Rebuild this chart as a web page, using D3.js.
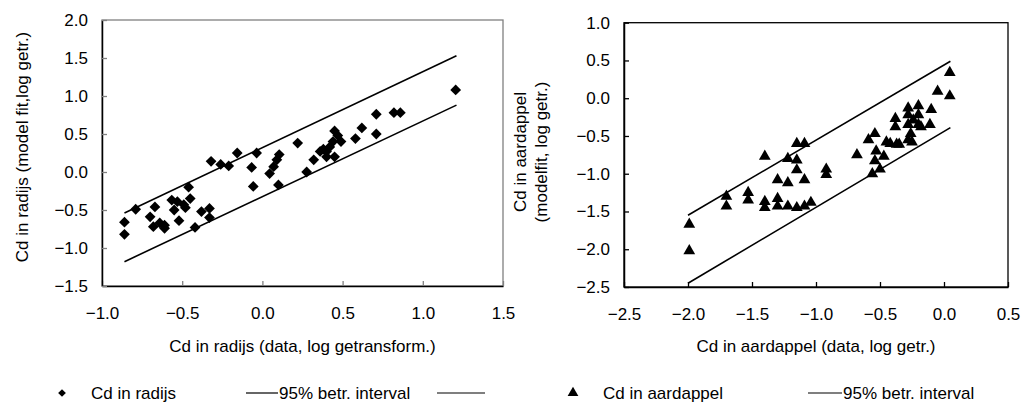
<!DOCTYPE html>
<html>
<head>
<meta charset="utf-8">
<script src="https://cdn.jsdelivr.net/npm/d3@7"></script>
<style>
  body { margin: 0; background: #fff; }
  text { font-family: "Liberation Sans", Arial, sans-serif; fill: #000; }
</style>
</head>
<body>
<div id="chart"></div>
<script>
// radijs: data (x) vs model fit (y), log transformed
var radijsX = [-0.86, -0.86, -0.79, -0.70, -0.67, -0.68, -0.64, -0.61, -0.61, -0.55,
  -0.565, -0.52, -0.53, -0.49, -0.48, -0.46, -0.45, -0.42, -0.38, -0.33,
  -0.33, -0.32, -0.26, -0.21, -0.157, -0.036, -0.067, -0.057, 0.105, 0.09,
  0.07, 0.045, 0.10, 0.22, 0.276, 0.32, 0.36, 0.38, 0.45, 0.47,
  0.44, 0.42, 0.40, 0.40, 0.45, 0.49, 0.58, 0.62, 0.71, 0.71,
  0.82, 0.86, 1.205];
var radijsY = [-0.66, -0.82, -0.49, -0.59, -0.46, -0.72, -0.67, -0.74, -0.70, -0.50,
  -0.37, -0.64, -0.39, -0.43, -0.47, -0.20, -0.35, -0.73, -0.52, -0.48,
  -0.60, 0.14, 0.10, 0.08, 0.25, 0.25, 0.06, -0.19, 0.23, 0.16,
  0.07, -0.02, -0.17, 0.38, 0.0, 0.16, 0.27, 0.30, 0.54, 0.48,
  0.40, 0.33, 0.27, 0.20, 0.20, 0.40, 0.44, 0.58, 0.76, 0.50,
  0.78, 0.78, 1.08];
// 95% interval lines (start / end)
var radijsUpper = [[-0.86, -0.54], [1.21, 1.53]];
var radijsLower = [[-0.86, -1.18], [1.21, 0.88]];

// aardappel
var aardX = [-1.99, -1.99, -1.70, -1.70, -1.53, -1.53, -1.40, -1.40, -1.40, -1.30,
  -1.30, -1.30, -1.22, -1.22, -1.22, -1.15, -1.15, -1.15, -1.15, -1.09,
  -1.09, -1.09, -1.04, -0.92, -0.92, -0.68, -0.59, -0.56, -0.54, -0.53,
  -0.54, -0.50, -0.47, -0.45, -0.42, -0.38, -0.38, -0.37, -0.35, -0.28,
  -0.28, -0.28, -0.28, -0.25, -0.26, -0.24, -0.20, -0.20, -0.20, -0.18,
  -0.10, -0.11, -0.05, 0.045, 0.045];
var aardY = [-1.67, -2.02, -1.30, -1.43, -1.25, -1.35, -0.77, -1.37, -1.45, -1.08,
  -1.33, -1.43, -0.80, -1.12, -1.43, -0.60, -0.82, -0.95, -1.45, -0.60,
  -1.08, -1.43, -1.38, -0.94, -1.01, -0.75, -0.55, -1.00, -0.47, -0.70,
  -0.83, -0.94, -0.77, -0.58, -0.60, -0.27, -0.38, -0.61, -0.61, -0.13,
  -0.22, -0.35, -0.55, -0.58, -0.47, -0.29, -0.10, -0.22, -0.35, -0.38,
  -0.15, -0.35, 0.09, 0.34, 0.03];
var aardUpper = [[-2.0, -1.55], [0.05, 0.49]];
var aardLower = [[-2.0, -2.45], [0.05, -0.39]];

var radijsXTicks = [-1.0, -0.5, 0.0, 0.5, 1.0, 1.5];
var radijsYTicks = [-1.5, -1.0, -0.5, 0.0, 0.5, 1.0, 1.5, 2.0];
var aardXTicks = [-2.5, -2.0, -1.5, -1.0, -0.5, 0.0, 0.5];
var aardYTicks = [-2.5, -2.0, -1.5, -1.0, -0.5, 0.0, 0.5, 1.0];

var width = 1023, height = 409, fs = "17px";
var svg = d3.select("#chart").append("svg")
  .attr("width", width)
  .attr("height", height);

var fmt = d3.format(".1f");
var line = d3.line();

function drawPanel(cfg) {
  var x = d3.scaleLinear().domain(cfg.xDomain).range([cfg.left, cfg.right]);
  var y = d3.scaleLinear().domain(cfg.yDomain).range([cfg.bottom, cfg.top]);
  var g = svg.append("g");

  // frame (top/right)
  g.append("rect")
    .attr("x", cfg.left).attr("y", cfg.top)
    .attr("width", cfg.right - cfg.left).attr("height", cfg.bottom - cfg.top)
    .attr("fill", "none").attr("stroke", cfg.frame).attr("stroke-width", 1.3);

  var xAxis = d3.axisBottom(x).tickValues(cfg.xTicks).tickFormat(fmt)
    .tickSizeInner(-5).tickSizeOuter(0).tickPadding(27);
  var yAxis = d3.axisLeft(y).tickValues(cfg.yTicks).tickFormat(fmt)
    .tickSizeInner(-5).tickSizeOuter(0).tickPadding(14);

  var gx = g.append("g").attr("transform", "translate(0," + cfg.bottom + ")").call(xAxis);
  var gy = g.append("g").attr("transform", "translate(" + cfg.left + ",0)").call(yAxis);
  [gx, gy].forEach(function(a) {
    a.select(".domain").attr("stroke", "#000").attr("stroke-width", 1.5);
    a.selectAll(".tick line").attr("stroke", cfg.tickColor).attr("stroke-width", 1.3);
    a.selectAll(".tick text").style("font-size", fs)
      .style("font-family", "'Liberation Sans', Arial, sans-serif").attr("fill", "#000");
  });
  gx.selectAll(".tick text").attr("dy", "0.35em");

  // interval lines
  [cfg.upper, cfg.lower].forEach(function(l) {
    g.append("path")
      .attr("d", line(l.map(function(p) { return [x(p[0]), y(p[1])]; })))
      .attr("fill", "none").attr("stroke", "#000").attr("stroke-width", 1.6);
  });

  // markers
  var sym = d3.symbol().type(cfg.symbol).size(cfg.symbolSize);
  g.selectAll("path.pt")
    .data(cfg.xs.map(function(v, i) { return [v, cfg.ys[i]]; }))
    .enter().append("path")
    .attr("class", "pt")
    .attr("d", sym)
    .attr("fill", "#000")
    .attr("transform", function(d) {
      return "translate(" + x(d[0]) + "," + y(d[1]) + ")" + (cfg.rotate ? " rotate(45)" : "");
    });

  // x title
  g.append("text")
    .attr("x", (cfg.left + cfg.right) / 2).attr("y", 352)
    .attr("text-anchor", "middle").style("font-size", fs)
    .text(cfg.xTitle);

  // y title (one or more lines)
  cfg.yTitle.forEach(function(t, i) {
    g.append("text")
      .attr("transform", "translate(" + (cfg.yTitleX + i * 21) + "," + cfg.yTitleY + ") rotate(-90)")
      .attr("text-anchor", "middle").attr("dy", "0.35em").style("font-size", fs)
      .text(t);
  });
}

drawPanel({
  xDomain: [-1.0, 1.5], yDomain: [-1.5, 2.0],
  left: 102, right: 503, top: 20, bottom: 286,
  xTicks: radijsXTicks, yTicks: radijsYTicks,
  frame: "#808080", tickColor: "#808080",
  xs: radijsX, ys: radijsY, upper: radijsUpper, lower: radijsLower,
  symbol: d3.symbolSquare, symbolSize: 58, rotate: true,
  xTitle: "Cd in radijs (data, log getransform.)",
  yTitle: ["Cd in radijs (model fit,log getr.)"], yTitleX: 22, yTitleY: 147
});

drawPanel({
  xDomain: [-2.5, 0.5], yDomain: [-2.5, 1.0],
  left: 624, right: 1008, top: 22.7, bottom: 287,
  xTicks: aardXTicks, yTicks: aardYTicks,
  frame: "#000", tickColor: "#000",
  xs: aardX, ys: aardY, upper: aardUpper, lower: aardLower,
  symbol: d3.symbolTriangle, symbolSize: 60, rotate: false,
  xTitle: "Cd in aardappel (data, log getr.)",
  yTitle: ["Cd in aardappel", "(modelfit, log getr.)"], yTitleX: 520, yTitleY: 152
});

// legend
var legY = 393;
var leg = svg.append("g");
leg.append("path").attr("d", d3.symbol().type(d3.symbolSquare).size(30))
  .attr("transform", "translate(62," + legY + ") rotate(45)");
leg.append("text").attr("x", 91).attr("y", legY).attr("dy", "0.35em")
  .style("font-size", fs).text("Cd in radijs");
leg.append("line").attr("x1", 246).attr("x2", 278).attr("y1", legY).attr("y2", legY)
  .attr("stroke", "#000").attr("stroke-width", 1.2);
leg.append("text").attr("x", 279).attr("y", legY).attr("dy", "0.35em")
  .style("font-size", fs).text("95% betr. interval");
leg.append("line").attr("x1", 437).attr("x2", 485).attr("y1", legY).attr("y2", legY)
  .attr("stroke", "#000").attr("stroke-width", 1.2);

leg.append("path").attr("d", d3.symbol().type(d3.symbolTriangle).size(50))
  .attr("transform", "translate(573," + legY + ")");
leg.append("text").attr("x", 603).attr("y", legY).attr("dy", "0.35em")
  .style("font-size", fs).text("Cd in aardappel");
leg.append("line").attr("x1", 808).attr("x2", 842).attr("y1", legY).attr("y2", legY)
  .attr("stroke", "#000").attr("stroke-width", 1.2);
leg.append("text").attr("x", 843).attr("y", legY).attr("dy", "0.35em")
  .style("font-size", fs).text("95% betr. interval");
</script>
</body>
</html>
